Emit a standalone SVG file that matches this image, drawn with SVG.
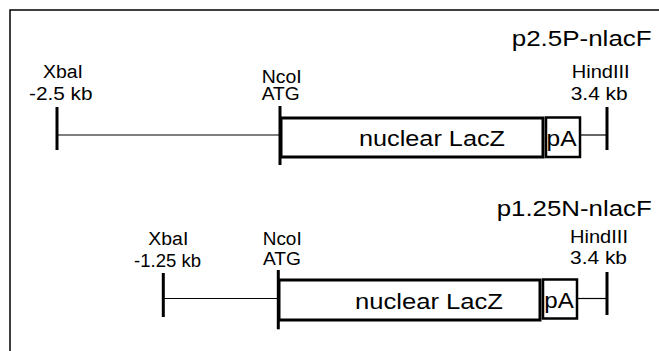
<svg xmlns="http://www.w3.org/2000/svg" width="659" height="351" viewBox="0 0 659 351">
<style>
text{font-family:"Liberation Sans",Arial,Helvetica,sans-serif;fill:#000}
.lbl{font-size:18px}
.ttl{font-size:22px}
.box{font-size:22px}
.tick{stroke:#000;stroke-width:3;fill:none}
.frame{stroke:#000;stroke-width:1.5;fill:none}
.gene{fill:#fff;stroke:#000;stroke-width:3}
.pa{fill:#fff;stroke:#000;stroke-width:2.5}
.link{stroke:#000;stroke-width:1.2;fill:none}
</style>
<rect width="659" height="351" fill="#fff"/>
<g id="frame"><path class="frame" d="M10,351 V10 H659"/></g>

<g id="connectors">
<line class="link" x1="57" y1="135" x2="280" y2="135"/>
<line class="link" x1="580" y1="135" x2="607" y2="135"/>
<line class="link" x1="163" y1="298.5" x2="278" y2="298.5"/>
<line class="link" x1="577" y1="298.5" x2="607" y2="298.5"/>
</g>

<g id="title1"><text class="ttl" x="511.7" y="46" textLength="140" lengthAdjust="spacingAndGlyphs">p2.5P-nlacF</text></g>
<g id="xba1">
<line class="tick" x1="57" y1="107" x2="57" y2="150"/>
<text class="lbl" x="43" y="78" textLength="40" lengthAdjust="spacingAndGlyphs">XbaI</text>
<text class="lbl" x="29" y="100" textLength="63.5" lengthAdjust="spacingAndGlyphs">-2.5 kb</text>
</g>
<g id="nco1">
<text class="lbl" x="261.7" y="83" textLength="40" lengthAdjust="spacingAndGlyphs">NcoI</text>
<text class="lbl" x="261.7" y="100" textLength="38" lengthAdjust="spacingAndGlyphs">ATG</text>
</g>
<g id="lacz1">
<rect class="gene" x="281" y="118" width="262" height="39"/>
<text class="box" x="359" y="146" textLength="146" lengthAdjust="spacingAndGlyphs">nuclear LacZ</text>
</g>
<g id="pa1">
<rect class="pa" x="546" y="117.5" width="34" height="39.5"/>
<text class="box" x="546.5" y="146" textLength="30" lengthAdjust="spacingAndGlyphs">pA</text>
</g>
<g id="nco1tick"><line class="tick" x1="280" y1="106" x2="280" y2="165"/></g>
<g id="hind1">
<line class="tick" x1="607" y1="107" x2="607" y2="150"/>
<text class="lbl" x="571.7" y="77.7" textLength="58" lengthAdjust="spacingAndGlyphs">HindIII</text>
<text class="lbl" x="570.7" y="100" textLength="57" lengthAdjust="spacingAndGlyphs">3.4 kb</text>
</g>

<g id="title2"><text class="ttl" x="496.7" y="216" textLength="155" lengthAdjust="spacingAndGlyphs">p1.25N-nlacF</text></g>
<g id="xba2">
<line class="tick" x1="163.3" y1="273" x2="163.3" y2="317"/>
<text class="lbl" x="148.3" y="245" textLength="40" lengthAdjust="spacingAndGlyphs">XbaI</text>
<text class="lbl" x="134" y="266.7" textLength="67" lengthAdjust="spacingAndGlyphs">-1.25 kb</text>
</g>
<g id="nco2">
<text class="lbl" x="262.7" y="245" textLength="39" lengthAdjust="spacingAndGlyphs">NcoI</text>
<text class="lbl" x="263" y="265" textLength="38" lengthAdjust="spacingAndGlyphs">ATG</text>
</g>
<g id="lacz2">
<rect class="gene" x="279" y="280" width="261" height="40"/>
<text class="box" x="355" y="309.3" textLength="148" lengthAdjust="spacingAndGlyphs">nuclear LacZ</text>
</g>
<g id="pa2">
<rect class="pa" x="543" y="279.5" width="34" height="39"/>
<text class="box" x="544.3" y="307.5" textLength="29.5" lengthAdjust="spacingAndGlyphs">pA</text>
</g>
<g id="nco2tick"><line class="tick" x1="278.3" y1="270" x2="278.3" y2="329.3"/></g>
<g id="hind2">
<line class="tick" x1="607" y1="272" x2="607" y2="315"/>
<text class="lbl" x="570" y="243.3" textLength="58" lengthAdjust="spacingAndGlyphs">HindIII</text>
<text class="lbl" x="570" y="264" textLength="57" lengthAdjust="spacingAndGlyphs">3.4 kb</text>
</g>
</svg>
